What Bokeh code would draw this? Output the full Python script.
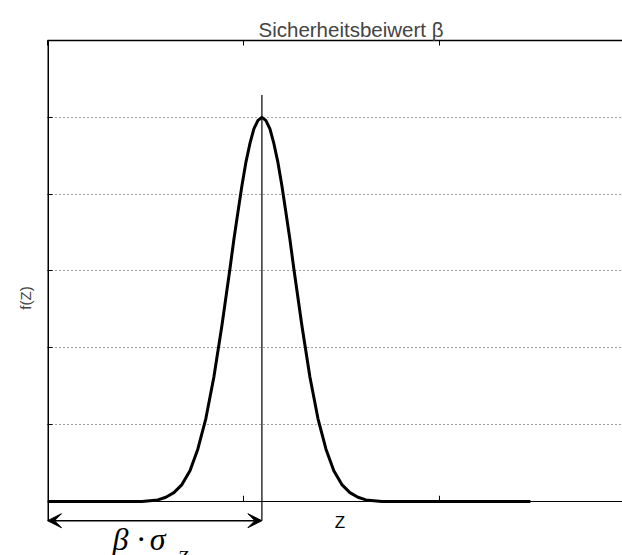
from bokeh.plotting import figure
from bokeh.models import FixedTicker, Arrow, VeeHead, Range1d
from bokeh.embed import file_html
from bokeh.resources import INLINE
from bokeh.core.properties import value

# ---- data ----
z_values = [0.0, 0.482, 0.563, 0.604, 0.645, 0.686, 0.727, 0.767, 0.808, 0.849,
            0.890, 0.931, 0.951, 0.972, 0.992, 1.012, 1.033, 1.053, 1.074, 1.094,
            1.114, 1.135, 1.155, 1.176, 1.196, 1.216, 1.237, 1.257, 1.298, 1.339,
            1.380, 1.421, 1.461, 1.502, 1.543, 1.584, 1.625, 1.706, 2.464]
f_values = [0.0, 0.0, 0.02, 0.055, 0.115, 0.22, 0.40, 0.68, 1.08, 1.62,
            2.29, 3.03, 3.41, 3.77, 4.11, 4.41, 4.66, 4.85, 4.96, 5.0,
            4.96, 4.85, 4.66, 4.41, 4.11, 3.77, 3.41, 3.03, 2.29, 1.62,
            1.08, 0.68, 0.40, 0.22, 0.115, 0.055, 0.02, 0.0, 0.0]
mean_z = 1.094          # position of the peak / vertical marker
peak_line_top = 5.29    # top of the vertical marker line
arrow_level = -0.25     # level of the beta*sigma dimension arrow
x_ticks = [0, 1, 2, 3]
y_ticks = [1, 2, 3, 4, 5, 6]
x_lim = (0.0, 2.934)
y_lim = (-0.703, 6.0)
bottom_ticks = [1, 2]
bottom_tick_len = 0.075

title_text = "Sicherheitsbeiwert β"
x_label = "Z"
y_label = "f(Z)"
x_label_pos = (1.492, -0.273)
formula_parts = ["β", "·", "σ"]
formula_x = [0.332, 0.456, 0.522]
formula_top = -0.255
formula_sub = "Z"
formula_sub_pos = (0.663, -0.59)

p = figure(width=622, height=555,
           x_range=Range1d(*x_lim), y_range=Range1d(*y_lim),
           output_backend="svg", toolbar_location=None,
           x_axis_location="above", y_axis_location="left",
           min_border_left=47, min_border_right=0,
           min_border_top=40, min_border_bottom=0,
           title=title_text)
p.outline_line_color = None
p.background_fill_color = "white"
p.border_fill_color = "white"

p.title.text_font = "Liberation Sans"
p.title.text_font_size = "20.5px"
p.title.text_font_style = "normal"
p.title.align = "left"
p.title.offset = 211
p.title.standoff = 0

# top axis
xa = p.xaxis[0]
xa.ticker = FixedTicker(ticks=x_ticks)
xa.major_label_overrides = {t: "" for t in x_ticks}
xa.major_tick_in = 5
xa.major_tick_out = 0
xa.minor_tick_line_color = None
xa.major_label_standoff = 0
xa.axis_line_width = 1.5
xa.axis_line_color = "black"
xa.major_tick_line_color = "black"

# left axis
ya = p.yaxis[0]
ya.ticker = FixedTicker(ticks=y_ticks)
ya.major_label_overrides = {t: "" for t in y_ticks}
ya.major_tick_in = 5
ya.major_tick_out = 0
ya.minor_tick_line_color = None
ya.major_label_standoff = 0
ya.axis_line_color = None
ya.major_tick_line_color = "black"
ya.axis_label = y_label
ya.axis_label_text_font = "Liberation Sans"
ya.axis_label_text_font_size = "15px"
ya.axis_label_text_font_style = "normal"
ya.axis_label_standoff = 14

p.xgrid.visible = False
p.ygrid.ticker = FixedTicker(ticks=y_ticks)
p.ygrid.grid_line_color = "black"
p.ygrid.grid_line_dash = "1 3"
p.ygrid.grid_line_alpha = 0.75
p.ygrid.grid_line_width = 1

# frame lines drawn as data segments
p.segment(x0=[x_lim[0]], y0=[0], x1=[x_lim[1]], y1=[0], line_color="black", line_width=1)
p.segment(x0=[x_lim[0]], y0=[arrow_level], x1=[x_lim[0]], y1=[y_lim[1]],
          line_color="black", line_width=3)
p.segment(x0=bottom_ticks, y0=[0] * len(bottom_ticks), x1=bottom_ticks,
          y1=[bottom_tick_len] * len(bottom_ticks), line_color="black", line_width=1)

# vertical marker at the mean
p.segment(x0=[mean_z], y0=[arrow_level], x1=[mean_z], y1=[peak_line_top],
          line_color="black", line_width=1.2)

# density curve
p.line(z_values, f_values, line_color="black", line_width=3, line_join="round")

# dimension arrow
p.add_layout(Arrow(start=VeeHead(size=14, fill_color="black", line_color="black"),
                   end=VeeHead(size=14, fill_color="black", line_color="black"),
                   x_start=x_lim[0], y_start=arrow_level, x_end=mean_z, y_end=arrow_level,
                   line_color="black", line_width=1.5))

# formula beta * sigma_Z
p.text(x=formula_x, y=[formula_top] * len(formula_parts), text=formula_parts,
       text_font=value("Liberation Serif"), text_font_style="italic",
       text_font_size="32px", text_align="left", text_baseline="top",
       text_color="black")
p.text(x=[formula_sub_pos[0]], y=[formula_sub_pos[1]], text=[formula_sub],
       text_font=value("Liberation Serif"), text_font_style="italic",
       text_font_size="19px", text_align="left", text_baseline="top",
       text_color="black")

# x label
p.text(x=[x_label_pos[0]], y=[x_label_pos[1]], text=[x_label],
       text_font=value("Liberation Sans"), text_font_size="17px",
       text_align="center", text_baseline="middle", text_color="black")

open("out.html", "w").write(file_html(p, INLINE))
